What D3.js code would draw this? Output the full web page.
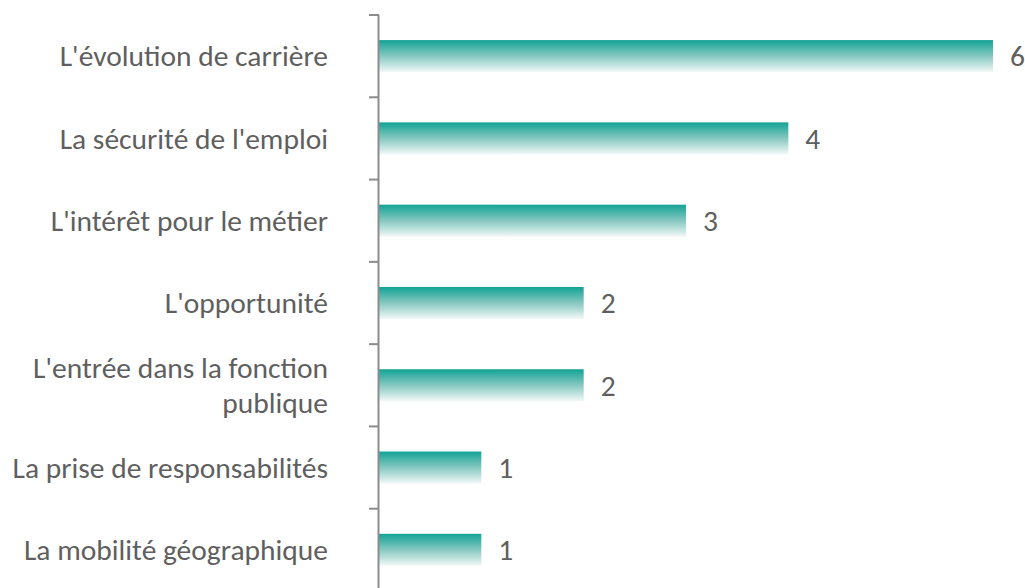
<!DOCTYPE html>
<html><head><meta charset="utf-8">
<script src="https://cdn.jsdelivr.net/npm/d3@7"></script>
<style>body{margin:0;background:#fff}svg{display:block}</style>
</head><body>
<script>
const categories = ["L'évolution de carrière","La sécurité de l'emploi","L'intérêt pour le métier","L'opportunité","L'entrée dans la fonction publique","La prise de responsabilités","La mobilité géographique"];
const labelLines = [["L'évolution de carrière"],["La sécurité de l'emploi"],["L'intérêt pour le métier"],["L'opportunité"],["L'entrée dans la fonction","publique"],["La prise de responsabilités"],["La mobilité géographique"]];
const values = [6,4,3,2,2,1,1];

const W=1025,H=588;
const svg=d3.select("body").append("svg").attr("width",W).attr("height",H);
const x0=379;
const x=d3.scaleLinear().domain([0,6]).range([x0,993]);
const y=d3.scaleBand().domain(categories).range([15,591]).paddingInner(0.61).paddingOuter(0.305);

const defs=svg.append("defs");
const g=defs.append("linearGradient").attr("id","grad").attr("x1",0).attr("y1",0).attr("x2",0).attr("y2",1);
g.append("stop").attr("offset","0%").attr("stop-color","#12a395");
g.append("stop").attr("offset","50%").attr("stop-color","#86c8c0");
g.append("stop").attr("offset","100%").attr("stop-color","#f3f9f8");

svg.selectAll("rect.bar").data(values).join("rect").attr("class","bar")
  .attr("x",x(0)).attr("y",(d,i)=>y(categories[i]))
  .attr("width",d=>x(d)-x(0)).attr("height",y.bandwidth())
  .attr("fill","url(#grad)");

// axis
const step=y.step();
const axisG=svg.append("g").attr("stroke","#8c8c8c").attr("stroke-width",2);
axisG.append("line").attr("x1",x0-0.5).attr("x2",x0-0.5).attr("y1",15).attr("y2",H);
const tickYs=d3.range(categories.length+1).map(i=>15+i*step);
axisG.selectAll("line.t").data(tickYs).join("line").attr("class","t")
  .attr("x1",x0-10).attr("x2",x0).attr("y1",d=>d).attr("y2",d=>d);

const font="Carlito, 'Open Sans', 'Liberation Sans', sans-serif";
svg.selectAll("text.lab").data(labelLines).join("text").attr("class","lab")
  .attr("text-anchor","end").attr("fill","#5f5f5f").attr("font-family",font).attr("font-size",29.5)
  .each(function(lines,i){
    const cy=y(categories[i])+y.bandwidth()/2;
    const n=lines.length, lh=35;
    d3.select(this).selectAll("tspan").data(lines).join("tspan")
      .attr("x",328).attr("y",(l,j)=>cy+(j-(n-1)/2)*lh).attr("dy","0.35em").text(l=>l);
  });

svg.selectAll("text.val").data(values).join("text").attr("class","val")
  .attr("x",d=>x(d)+17).attr("y",(d,i)=>y(categories[i])+y.bandwidth()/2).attr("dy","0.35em")
  .attr("fill","#5f5f5f").attr("font-family",font).attr("font-size",29.5).text(d=>d);
</script>
</body></html>
